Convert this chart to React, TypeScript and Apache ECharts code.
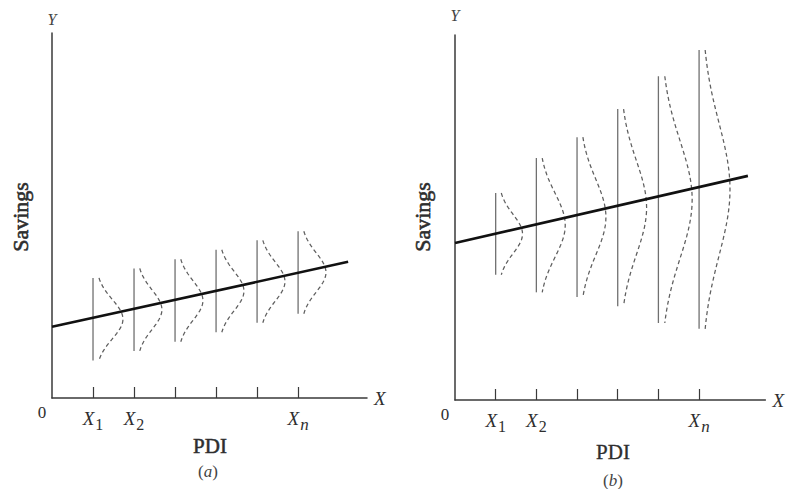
import React, { useEffect, useRef } from "react";
import * as echarts from "echarts";

// ---- data (schematic values) ----
const tickPositions = [1, 2, 3, 4, 5, 6];
const labelPositions = [0, 1, 2, 6];
const labelTexts = ["0", "X|1", "X|2", "X|n"];

// Panel (a): homoscedastic
const xA = [1, 2, 3, 4, 5, 6];
const meansA = [2.16, 2.42, 2.67, 2.93, 3.19, 3.44];
const spreadA = [1.13, 1.13, 1.13, 1.13, 1.13, 1.13];
const peakA = [0.73, 0.68, 0.68, 0.68, 0.68, 0.68];
const regLineA = [
  [0, 1.95],
  [7.22, 3.73],
];

// Panel (b): heteroscedastic
const xB = [1, 2, 3, 4, 5, 6];
const meansB = [4.55, 4.79, 5.01, 5.27, 5.49, 5.77];
const spreadB = [1.12, 1.84, 2.19, 2.7, 3.38, 3.82];
const peakB = [0.66, 0.71, 0.71, 0.71, 0.83, 0.76];
const regLineB = [
  [0, 4.3],
  [7.2, 6.14],
];

const FONT = "Liberation Serif";
const AXIS_COLOR = "#3a3a3a";
const TEXT_COLOR = "#2e2e2e";

function makeDist(xs: number[], means: number[], spreads: number[], peaks: number[]) {
  return xs.map((x, i) => [x, means[i], spreads[i], peaks[i]]);
}

const renderDist = (params: any, api: any) => {
  const x = api.value(0);
  const m = api.value(1);
  const s = api.value(2);
  const p = api.value(3);
  const top = api.coord([x, m + s]);
  const bot = api.coord([x, m - s]);
  const peakPt = api.coord([x + p, m]);
  const amp = peakPt[0] - top[0];
  const pts: number[][] = [];
  const n = 40;
  const k = 2.1;
  for (let j = 0; j <= n; j++) {
    const t = -1 + (2 * j) / n;
    const py = top[1] + ((t + 1) / 2) * (bot[1] - top[1]);
    const g = Math.exp(-0.5 * (k * t) * (k * t));
    pts.push([top[0] + 3 + (amp - 3) * g, py]);
  }
  return {
    type: "group",
    children: [
      {
        type: "line",
        shape: { x1: top[0], y1: top[1], x2: bot[0], y2: bot[1] },
        style: { stroke: "#707070", lineWidth: 1.3 },
      },
      {
        type: "polyline",
        shape: { points: pts },
        style: { stroke: "#5e5e5e", lineWidth: 1.25, lineDash: [4, 3], fill: null },
      },
    ],
  };
};

function xAxisFor(gridIndex: number, max: number) {
  return {
    type: "value",
    gridIndex,
    min: 0,
    max,
    splitLine: { show: false },
    axisLine: { show: true, onZero: false, lineStyle: { color: AXIS_COLOR, width: 1.5 } },
    axisTick: {
      show: true,
      inside: true,
      length: 11,
      customValues: tickPositions,
      lineStyle: { color: AXIS_COLOR, width: 1.2 },
    },
    axisLabel: {
      show: true,
      customValues: labelPositions,
      margin: 6,
      formatter: (v: number) => {
        const idx = labelPositions.indexOf(v);
        const t = labelTexts[idx];
        if (!t) return "";
        if (t.indexOf("|") < 0) return "{z|" + t + "}";
        const [a, b] = t.split("|");
        const sub = /[a-z]/.test(b) ? "si" : "s";
        return "{x|" + a + "}{" + sub + "|" + b + "}";
      },
      rich: {
        z: { fontFamily: FONT, fontSize: 17, color: TEXT_COLOR, padding: [0, 20, 0, 0] },
        x: { fontFamily: FONT, fontSize: 19, fontStyle: "italic", color: TEXT_COLOR },
        s: { fontFamily: FONT, fontSize: 16, color: TEXT_COLOR, padding: [12, 0, 0, 1] },
        si: { fontFamily: FONT, fontSize: 17, fontStyle: "italic", color: TEXT_COLOR, padding: [12, 0, 0, 1] },
      },
    },
    name: "X",
    nameLocation: "end",
    nameGap: 7,
    nameTextStyle: { fontFamily: FONT, fontSize: 19, fontStyle: "italic", color: TEXT_COLOR },
  };
}

function yAxisFor(gridIndex: number, gap: number) {
  return {
    type: "value",
    gridIndex,
    min: 0,
    max: 10,
    splitLine: { show: false },
    axisLine: { show: true, onZero: false, lineStyle: { color: AXIS_COLOR, width: 1.5 } },
    axisTick: { show: false },
    axisLabel: { show: false },
    name: "Y",
    nameLocation: "end",
    nameGap: gap,
    nameTextStyle: { fontFamily: FONT, fontSize: 16, fontStyle: "italic", color: "#444", align: "center" },
  };
}

function titleText(x: number, y: number, text: string, size: number, rotate = false, strokeW = 0.5) {
  return {
    type: "text",
    x,
    y,
    rotation: rotate ? Math.PI / 2 : 0,
    style: {
      text,
      font: size + "px 'Liberation Serif'",
      fill: TEXT_COLOR,
      stroke: TEXT_COLOR,
      lineWidth: strokeW,
      textAlign: "center",
      textVerticalAlign: "middle",
    },
  };
}

function panelLabel(x: number, y: number, letter: string) {
  return {
    type: "text",
    x,
    y,
    style: {
      text: "{p|(}{l|" + letter + "}{p|)}",
      textAlign: "center",
      textVerticalAlign: "middle",
      rich: {
        p: { fontFamily: FONT, fontSize: 17, fill: "#444" },
        l: { fontFamily: FONT, fontSize: 17, fontStyle: "italic", fill: "#444" },
      },
    },
  };
}

export default function App() {
  const ref = useRef<HTMLDivElement>(null);
  useEffect(() => {
    if (!ref.current) return;
    const chart = echarts.init(ref.current, null, { renderer: "svg" });
    const option: any = {
      animation: false,
      backgroundColor: "#ffffff",
      grid: [
        { left: 52, top: 33, width: 315, height: 365 },
        { left: 455, top: 35, width: 313, height: 365 },
      ],
      xAxis: [xAxisFor(0, 7.68), xAxisFor(1, 7.63)],
      yAxis: [yAxisFor(0, 6), yAxisFor(1, 12)],
      series: [
        {
          type: "custom",
          xAxisIndex: 0,
          yAxisIndex: 0,
          renderItem: renderDist,
          data: makeDist(xA, meansA, spreadA, peakA),
          silent: true,
        },
        {
          type: "custom",
          xAxisIndex: 1,
          yAxisIndex: 1,
          renderItem: renderDist,
          data: makeDist(xB, meansB, spreadB, peakB),
          silent: true,
        },
        {
          type: "line",
          xAxisIndex: 0,
          yAxisIndex: 0,
          data: regLineA,
          symbol: "none",
          lineStyle: { color: "#111", width: 2.6 },
          z: 5,
        },
        {
          type: "line",
          xAxisIndex: 1,
          yAxisIndex: 1,
          data: regLineB,
          symbol: "none",
          lineStyle: { color: "#111", width: 2.6 },
          z: 5,
        },
      ],
      graphic: [
        titleText(20, 217, "Savings", 22, true, 0.6),
        titleText(422, 217, "Savings", 22, true, 0.6),
        titleText(210, 446, "PDI", 21, false, 0.5),
        titleText(613, 452, "PDI", 21, false, 0.3),
        panelLabel(208, 471, "a"),
        panelLabel(613, 480, "b"),
      ],
    };
    chart.setOption(option);
    return () => chart.dispose();
  }, []);
  return (
    <div
      ref={ref}
      style={{ position: "fixed", left: 0, top: 0, width: 787, height: 489, background: "#fff" }}
    />
  );
}
